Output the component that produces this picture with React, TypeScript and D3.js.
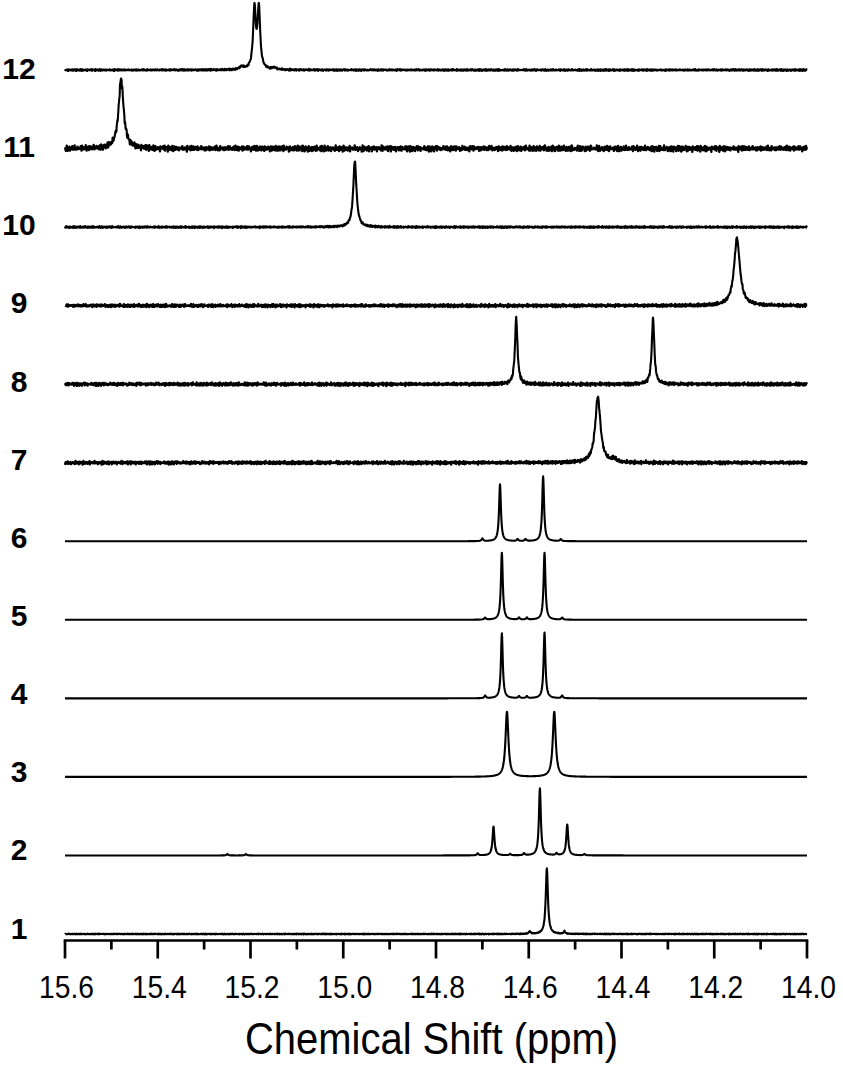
import React from "react";
import * as d3 from "d3";

// peak = [ppm, intensity (% of full height), half width (ppm)]
type Peak = [number, number, number];

const SPECTRA = ["1", "2", "3", "4", "5", "6", "7", "8", "9", "10", "11", "12"];

const PEAKS_1: Peak[] = [[14.598, 4, 0.002], [14.561, 98, 0.0028], [14.523, 4, 0.002]];
const PEAKS_2: Peak[] = [
  [15.25, 2, 0.002], [15.21, 2, 0.002], [14.71, 3, 0.002], [14.676, 43, 0.0025],
  [14.64, 2, 0.002], [14.61, 3, 0.002], [14.576, 100, 0.0025], [14.54, 3, 0.002],
  [14.517, 46, 0.0025], [14.48, 2, 0.002],
];
const PEAKS_3: Peak[] = [[14.647, 97, 0.0038], [14.545, 97, 0.0038]];
const PEAKS_4: Peak[] = [
  [14.694, 4, 0.002], [14.658, 97, 0.0024], [14.621, 3, 0.002],
  [14.604, 3, 0.002], [14.566, 98, 0.0024], [14.528, 4, 0.002],
];
const PEAKS_5: Peak[] = [
  [14.694, 3, 0.002], [14.658, 100, 0.0024], [14.621, 3, 0.002],
  [14.604, 3, 0.002], [14.566, 100, 0.0024], [14.528, 3, 0.002],
];
const PEAKS_6: Peak[] = [
  [14.7, 4, 0.002], [14.662, 85, 0.0024], [14.624, 3, 0.002],
  [14.607, 3, 0.002], [14.569, 97, 0.0024], [14.531, 3, 0.002],
];
const PEAKS_7: Peak[] = [[14.451, 98, 0.0068], [14.416, 5, 0.005]];
const PEAKS_8: Peak[] = [[14.627, 98, 0.0033], [14.332, 98, 0.0033]];
const PEAKS_9: Peak[] = [[14.151, 100, 0.0075]];
const PEAKS_10: Peak[] = [[14.975, 98, 0.0042]];
const PEAKS_11: Peak[] = [[15.479, 103, 0.0065]];
const PEAKS_12: Peak[] = [[15.219, 4, 0.006], [15.1915, 90, 0.0034], [15.182, 90, 0.0034], [15.149, 3, 0.005]];

const PEAKS: Peak[][] = [
  PEAKS_1, PEAKS_2, PEAKS_3, PEAKS_4, PEAKS_5, PEAKS_6,
  PEAKS_7, PEAKS_8, PEAKS_9, PEAKS_10, PEAKS_11, PEAKS_12,
];

// baseline noise level per spectrum (% of full height)
const NOISE_LEVEL = [0.7, 0, 0, 0, 0, 0, 3.0, 3.0, 2.8, 1.6, 5.0, 1.6];

// fixed noise pattern
const NOISE_A = [0.3, -0.8, 0.5, 1.0, -0.2, -0.9, 0.6, -0.4, 0.1, 0.9, -0.7, -0.1, 0.8, -1.0, 0.4, 0.2, -0.6, 0.7, -0.3, -0.8, 1.0, 0.0, -0.5, 0.6, -0.9, 0.3, 0.8, -0.2, -0.6, 0.5, -1.0, 0.9, 0.1, -0.4, 0.7, -0.7, 0.2, 0.6, -0.3, -0.9, 0.4];
const NOISE_B = [-0.5, 0.9, -0.2, 0.4, -1.0, 0.7, 0.1, -0.6, 0.8, -0.3, 0.5, -0.9, 0.2, 1.0, -0.7, 0.3, -0.1, 0.6, -0.8, 0.0, 0.9, -0.4, -0.6, 0.7, -0.2, 0.4, -1.0, 0.8, -0.5];

const MAJOR_TICKS = [15.6, 15.4, 15.2, 15.0, 14.8, 14.6, 14.4, 14.2, 14.0];
const MINOR_TICKS = [15.5, 15.3, 15.1, 14.9, 14.7, 14.5, 14.3, 14.1];

const width = 843, height = 1074;
const font = "'Liberation Sans', Arial, sans-serif";

export default function App() {
  const x = d3.scaleLinear().domain([15.6, 14.0]).range([65, 807]);
  const yBase = d3.scalePoint<string>().domain(SPECTRA).range([934, 70]);
  const yLabel = d3.scalePoint<string>().domain(SPECTRA).range([938.5, 79]);
  const yI = d3.scaleLinear().domain([0, 100]).range([0, 67]);

  const grid = d3.range(0, 3201).map((i) => 14.0 + i * 0.0005);

  const paths = SPECTRA.map((name, si) => {
    const peaks = PEAKS[si];
    const nl = NOISE_LEVEL[si];
    const pts: [number, number][] = grid.map((p, i) => {
      let v = 0;
      peaks.forEach(([c, h, w]) => {
        const t = (p - c) / w;
        v += h / (1 + t * t);
      });
      const k = Math.floor(i / 2) + si * 7;
      v += nl * (0.6 * NOISE_A[k % NOISE_A.length] + 0.4 * NOISE_B[(k * 3 + si) % NOISE_B.length]);
      return [p, v];
    });
    const base = yBase(name)!;
    const line = d3.line<[number, number]>()
      .x((d) => x(d[0]))
      .y((d) => base - yI(d[1]));
    return line(pts)!;
  });

  const axisY = 940.5;

  return (
    <svg width={width} height={height} style={{ position: "absolute", left: 0, top: 0, background: "#fff" }}>
      {paths.map((d, i) => (
        <path key={i} d={d} fill="none" stroke="#000" strokeWidth={2.1} strokeLinejoin="round" />
      ))}
      {SPECTRA.map((name) => (
        <text key={name} x={19} y={yLabel(name)} textAnchor="middle" fontFamily={font}
          fontWeight="bold" fontSize={30} fill="#000">{name}</text>
      ))}
      <line x1={x(15.6) - 1.3} x2={x(14.0) + 1.3} y1={axisY} y2={axisY} stroke="#000" strokeWidth={2.7} />
      {MAJOR_TICKS.map((t) => (
        <line key={t} x1={x(t)} x2={x(t)} y1={axisY} y2={axisY + 18} stroke="#000" strokeWidth={2.7} />
      ))}
      {MINOR_TICKS.map((t) => (
        <line key={t} x1={x(t)} x2={x(t)} y1={axisY} y2={axisY + 9} stroke="#000" strokeWidth={2.7} />
      ))}
      {MAJOR_TICKS.map((t) => (
        <text key={t} x={x(t) + 1.5} y={998} textAnchor="middle" fontFamily={font} fontSize={32}
          textLength={55} lengthAdjust="spacingAndGlyphs" fill="#000">{t.toFixed(1)}</text>
      ))}
      <text x={431.5} y={1054} textAnchor="middle" fontFamily={font} fontSize={45}
        textLength={373} lengthAdjust="spacingAndGlyphs" fill="#000">Chemical Shift (ppm)</text>
    </svg>
  );
}
